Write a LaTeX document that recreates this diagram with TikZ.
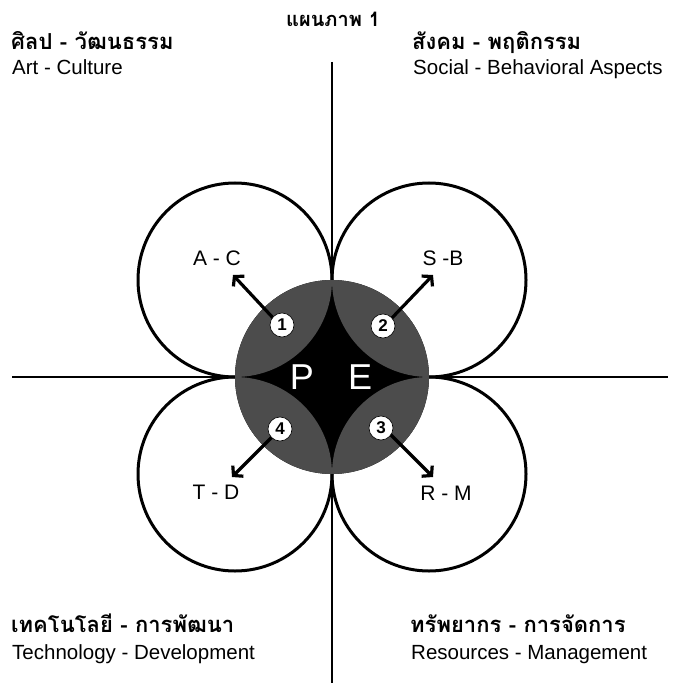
\documentclass[tikz,border=0pt]{standalone}
\usepackage{fontspec}
\setmainfont{Liberation Sans}
\newfontfamily\thaifont[Script=Thai]{Loma}
\usetikzlibrary{arrows.meta}
\begin{document}
\begin{tikzpicture}[x=1pt,y=-1pt,
  axisline/.style={line width=2.5pt},
  petal/.style={circle, draw=black, line width=3pt, minimum size=194pt, inner sep=0pt},
  core/.style={circle, fill=black, minimum size=194pt, inner sep=0pt},
  numc/.style={circle, fill=white, draw=black, line width=0.6pt, minimum size=24pt, inner sep=0pt, font=\bfseries\fontsize{17}{17}\selectfont},
  bigletter/.style={text=white, font=\fontsize{36}{36}\selectfont, inner sep=0pt},
  arr/.style={line width=3.2pt, -{Straight Barb[length=6.5pt,width=15pt,line width=3.2pt]}},
  dirlabel/.style={font=\fontsize{21}{21}\selectfont, inner sep=0pt},
  thaihead/.style={font=\thaifont\bfseries\fontsize{22}{24}\selectfont, anchor=base west, inner sep=0pt},
  enghead/.style={font=\fontsize{20.5}{22}\selectfont, anchor=base west, inner sep=0pt},
  titletext/.style={font=\thaifont\bfseries\fontsize{20}{22}\selectfont, anchor=base, inner sep=0pt}
]
\useasboundingbox (0,0) rectangle (680,687);

% axes
\coordinate (vtop) at (332,62);
\coordinate (vbot) at (332,683);
\coordinate (hleft) at (12,377);
\coordinate (hright) at (668,377);
\draw[axisline] (vtop) -- (vbot);
\draw[axisline] (hleft) -- (hright);

% petals
\node[petal] (pAC) at (235,280) {};
\node[petal] (pSB) at (429,280) {};
\node[petal] (pRM) at (429,474) {};
\node[petal] (pTD) at (235,474) {};

% core
\node[core] (pe) at (332,377) {};
\begin{scope}
  \clip (332,377) circle (97);
  \fill[black!70] (235,280) circle (97);
  \fill[black!70] (429,280) circle (97);
  \fill[black!70] (429,474) circle (97);
  \fill[black!70] (235,474) circle (97);
\end{scope}

% P and E
\node[bigletter] (P) at (302,377) {P};
\node[bigletter] (E) at (360,377) {E};

% arrows
\coordinate (tAC) at (233,275);
\coordinate (tSB) at (433,275);
\coordinate (tRM) at (433,477);
\coordinate (tTD) at (232,477);
\coordinate (sAC) at (275,320);
\coordinate (sSB) at (390,320);
\coordinate (sRM) at (390,434);
\coordinate (sTD) at (275,434);
\draw[arr] (sAC) -- (tAC);
\draw[arr] (sSB) -- (tSB);
\draw[arr] (sRM) -- (tRM);
\draw[arr] (sTD) -- (tTD);

% numbered circles
\node[numc] (n1) at (282,325) {1};
\node[numc] (n2) at (383,326) {2};
\node[numc] (n3) at (381,428) {3};
\node[numc] (n4) at (280,429) {4};

% direction labels
\node[dirlabel] (lAC) at (217,258) {A - C};
\node[dirlabel] (lSB) at (443,258) {S -B};
\node[dirlabel] (lTD) at (216,492) {T - D};
\node[dirlabel] (lRM) at (446,493) {R - M};

% title
\node[titletext] (title) at (333,27) {แผนภาพ 1};

% corner headings
\node[thaihead] (h1) at (11,50) {ศิลป - วัฒนธรรม};
\node[enghead] (e1) at (12,75) {Art - Culture};
\node[thaihead] (h2) at (412,50) {สังคม - พฤติกรรม};
\node[enghead] (e2) at (413,75) {Social - Behavioral Aspects};
\node[thaihead] (h3) at (11,632) {เทคโนโลยี - การพัฒนา};
\node[enghead] (e3) at (12,659) {Technology - Development};
\node[thaihead] (h4) at (410,632) {ทรัพยากร - การจัดการ};
\node[enghead] (e4) at (411,659) {Resources - Management};
\end{tikzpicture}
\end{document}
